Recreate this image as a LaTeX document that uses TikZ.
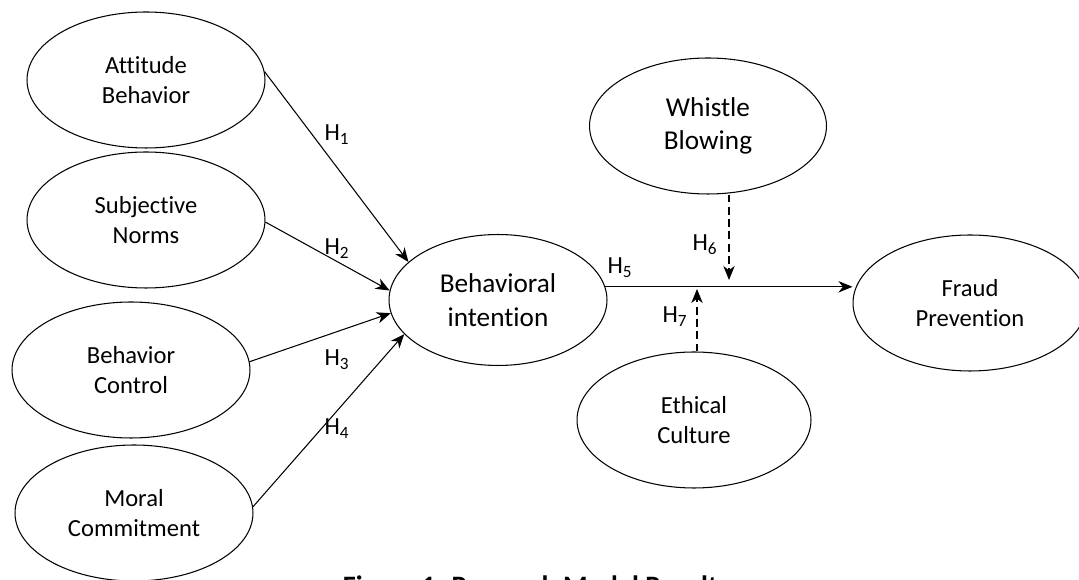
\documentclass[tikz,border=0pt]{standalone}
\usepackage{fontspec}
\setmainfont{Carlito}[Ligatures=NoCommon]
\usepackage{tikz}
\usetikzlibrary{shapes.geometric,arrows.meta}

\begin{document}
\begin{tikzpicture}
		[x=0.02cm,y=-0.02cm,line width=0.6pt,
		%Styles
		construct/.style={ellipse,draw,inner sep=0pt,align=center,
			minimum width=4.76cm,minimum height=2.72cm,
			font=\fontsize{14}{17.5}\selectfont},
		big text/.style={font=\fontsize{15.5}{19}\selectfont},
		hyp/.style={inner sep=0pt,font=\fontsize{14}{17}\selectfont},
		path arrow/.style={-{Stealth[length=8pt,width=6.5pt,inset=2.5pt]}},
		moderator/.style={path arrow,dash pattern=on 4.5pt off 2.5pt}
		]
		
		\useasboundingbox (0,0) rectangle (1079,580);
		\clip (0,0) rectangle (1079,580);
		
		%The graphic
		\node[construct] (ab) at (146,80) {Attitude\\Behavior};
		\node[construct] (sn) at (146,220) {Subjective\\Norms};
		\node[construct] (bc) at (131,370) {Behavior\\Control};
		\node[construct] (mc) at (134,513) {Moral\\Commitment};
		\node[construct,big text,minimum width=4.36cm,minimum height=2.62cm] (bi) at (498,300) {Behavioral\\intention};
		\node[construct,big text,minimum width=4.74cm] (wb) at (708,126) {Whistle\\Blowing};
		\node[construct,minimum width=4.68cm] (ec) at (694,420) {Ethical\\Culture};
		\node[construct,minimum width=4.68cm] (fp) at (970,303) {Fraud\\Prevention};
		
		%Meeting points on H5
		\coordinate (m6) at (729,280);
		\coordinate (m7) at (697,289);
		
		\path[path arrow]
			(ab.4) edge (bi.157)
			(sn.-1) edge (bi.175)
			(bc.4) edge (bi.187)
			(mc.3) edge (bi.200)
			(bi.7.5) edge (fp.west |- bi.7.5);
		
		\path[moderator]
			(wb.south -| m6) edge (m6)
			(ec.north -| m7) edge (m7);
		
		%Labels
		\node[hyp] (h1) at (337,135) {H\textsubscript{1}};
		\node[hyp] (h2) at (337,249) {H\textsubscript{2}};
		\node[hyp] (h3) at (337,360) {H\textsubscript{3}};
		\node[hyp] (h4) at (337,429) {H\textsubscript{4}};
		\node[hyp] (h5) at (620,268) {H\textsubscript{5}};
		\node[hyp] (h6) at (705,245) {H\textsubscript{6}};
		\node[hyp] (h7) at (675,317) {H\textsubscript{7}};
		
		\node[anchor=base,inner sep=0pt,font=\fontsize{16}{19}\bfseries] (cap) at (536,596)
			{Figure 1. Research Model Results};
	\end{tikzpicture}
\end{document}
